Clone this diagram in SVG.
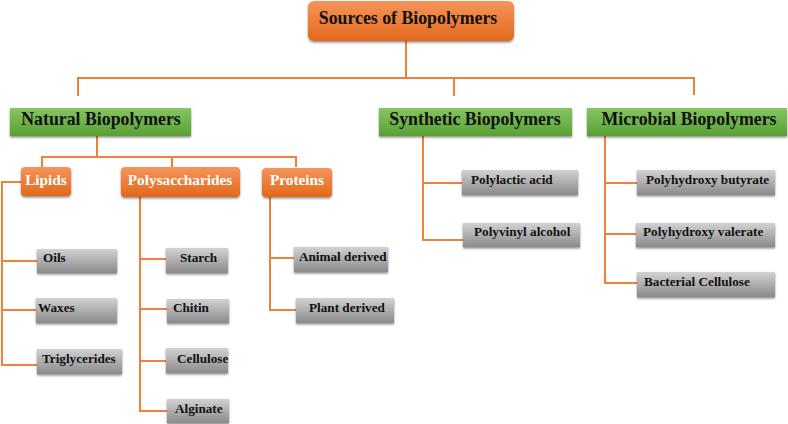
<svg xmlns="http://www.w3.org/2000/svg" width="788" height="424" viewBox="0 0 788 424">
<defs>
<linearGradient id="gOrange" x1="0" y1="0" x2="0" y2="1">
<stop offset="0" stop-color="#f5955a"/>
<stop offset="1" stop-color="#e2681c"/>
</linearGradient>
<linearGradient id="gGreen" x1="0" y1="0" x2="0" y2="1">
<stop offset="0" stop-color="#86c663"/>
<stop offset="1" stop-color="#58a032"/>
</linearGradient>
<linearGradient id="gGray" x1="0" y1="0" x2="0" y2="1">
<stop offset="0" stop-color="#d2d2d2"/>
<stop offset="1" stop-color="#8a8a8a"/>
</linearGradient>
<filter id="sh" x="-10%" y="-20%" width="120%" height="150%">
<feDropShadow dx="0" dy="1.5" stdDeviation="0.8" flood-color="#000" flood-opacity="0.45"/>
</filter>
</defs>
<style>
.c{fill:none;stroke:#f0803a;stroke-width:2}
.or{fill:url(#gOrange);filter:url(#sh)}
.gr{fill:url(#gGreen);filter:url(#sh)}
.gy{fill:url(#gGray);filter:url(#sh)}
.t{font-family:"Liberation Serif","Times New Roman",serif;font-weight:bold}
.tr{font-size:17.8px;fill:#111}
.tg{font-size:17.8px;fill:#111}
.to{font-size:15.3px;fill:#fff}
.ty{font-size:13.2px;fill:#111}
</style>
<g id="connectors">
<path class="c" d="M406 41V78M78 96V78H694V95M454 78V96"/>
<path class="c" d="M97 136V157M42 167V157H296V167M172 157V167"/>
<path class="c" d="M21 182H2V365H37M2 261H37M2 310H36"/>
<path class="c" d="M140 197V411H167M140 259H166M140 309H167M140 361H166"/>
<path class="c" d="M270 197V310H296M270 258H294"/>
<path class="c" d="M423 136V240H463M423 183H462"/>
<path class="c" d="M605 136V283H637M605 183H637M605 234H636"/>
</g>
<g id="root"><rect class="or" x="308" y="1" width="206" height="40" rx="6"/><text class="t tr" x="408" y="20" text-anchor="middle" dominant-baseline="middle">Sources of Biopolymers</text></g>
<g id="natural"><rect class="gr" x="10" y="108" width="181" height="28"/><text class="t tg" x="101" y="121" text-anchor="middle" dominant-baseline="middle">Natural Biopolymers</text></g>
<g id="synthetic"><rect class="gr" x="379" y="108" width="193" height="28"/><text class="t tg" x="475" y="121" text-anchor="middle" dominant-baseline="middle">Synthetic Biopolymers</text></g>
<g id="microbial"><rect class="gr" x="587" y="108" width="200" height="28"/><text class="t tg" x="689" y="121" text-anchor="middle" dominant-baseline="middle">Microbial Biopolymers</text></g>
<g id="lipids"><rect class="or" x="21" y="167" width="50" height="29" rx="4"/><text class="t to" x="46" y="181" text-anchor="middle" dominant-baseline="middle">Lipids</text></g>
<g id="polysaccharides"><rect class="or" x="121" y="167" width="119" height="30" rx="4"/><text class="t to" x="180" y="181" text-anchor="middle" dominant-baseline="middle">Polysaccharides</text></g>
<g id="proteins"><rect class="or" x="262" y="168" width="70" height="29" rx="4"/><text class="t to" x="297" y="181" text-anchor="middle" dominant-baseline="middle">Proteins</text></g>
<g id="oils"><rect class="gy" x="37" y="249" width="80" height="24"/><text class="t ty" x="43" y="259" dominant-baseline="middle">Oils</text></g>
<g id="waxes"><rect class="gy" x="36" y="298" width="81" height="25"/><text class="t ty" x="38" y="309" dominant-baseline="middle">Waxes</text></g>
<g id="triglycerides"><rect class="gy" x="37" y="349" width="85" height="25"/><text class="t ty" x="42" y="360" dominant-baseline="middle">Triglycerides</text></g>
<g id="starch"><rect class="gy" x="166" y="248" width="62" height="25"/><text class="t ty" x="180" y="259" dominant-baseline="middle">Starch</text></g>
<g id="chitin"><rect class="gy" x="167" y="299" width="62" height="24"/><text class="t ty" x="173" y="309" dominant-baseline="middle">Chitin</text></g>
<g id="cellulose"><rect class="gy" x="166" y="348" width="62" height="25"/><text class="t ty" x="177" y="360" dominant-baseline="middle">Cellulose</text></g>
<g id="alginate"><rect class="gy" x="167" y="399" width="62" height="24"/><text class="t ty" x="175" y="410" dominant-baseline="middle">Alginate</text></g>
<g id="animal"><rect class="gy" x="294" y="247" width="94" height="25"/><text class="t ty" x="299" y="258" dominant-baseline="middle">Animal derived</text></g>
<g id="plant"><rect class="gy" x="296" y="298" width="98" height="25"/><text class="t ty" x="309" y="309" dominant-baseline="middle">Plant derived</text></g>
<g id="polylactic"><rect class="gy" x="462" y="170" width="116" height="25"/><text class="t ty" x="471" y="181" dominant-baseline="middle">Polylactic acid</text></g>
<g id="polyvinyl"><rect class="gy" x="463" y="223" width="117" height="24"/><text class="t ty" x="474" y="233" dominant-baseline="middle">Polyvinyl alcohol</text></g>
<g id="butyrate"><rect class="gy" x="637" y="170" width="138" height="25"/><text class="t ty" x="646" y="181" dominant-baseline="middle">Polyhydroxy butyrate</text></g>
<g id="valerate"><rect class="gy" x="636" y="223" width="139" height="24"/><text class="t ty" x="643" y="233" dominant-baseline="middle">Polyhydroxy valerate</text></g>
<g id="bacterial"><rect class="gy" x="637" y="272" width="138" height="25"/><text class="t ty" x="644" y="283" dominant-baseline="middle">Bacterial Cellulose</text></g>
</svg>
